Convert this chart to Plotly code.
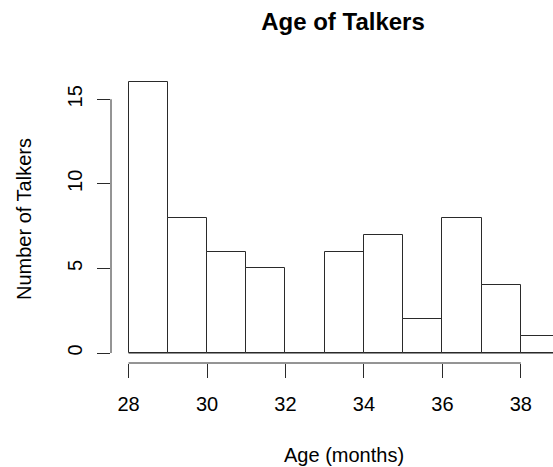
import plotly.graph_objects as go

# Data
breaks = [28, 29, 30, 31, 32, 33, 34, 35, 36, 37, 38, 39]
counts = [16, 8, 6, 5, 0, 6, 7, 2, 8, 4, 1]
x_ticks = [28, 30, 32, 34, 36, 38]
y_ticks = [0, 5, 10, 15]
title = "Age of Talkers"
x_title = "Age (months)"
y_title = "Number of Talkers"

centers = [(a + b) / 2 for a, b in zip(breaks[:-1], breaks[1:])]
widths = [b - a for a, b in zip(breaks[:-1], breaks[1:])]

FONT = "Liberation Sans, Arial, Helvetica, sans-serif"
LINE = "#2a2a2a"
W, H = 553, 467
L, R, T, B = 111, 0, 60, 104
PW, PH = W - L - R, H - T - B

fig = go.Figure()
fig.add_trace(go.Bar(
    x=centers, y=counts, width=widths,
    marker=dict(color="white", line=dict(color=LINE, width=1)),
    hoverinfo="skip", showlegend=False,
))

shapes = [
    # baseline of the histogram (covers empty bins)
    dict(type="line", xref="x", yref="y", x0=breaks[0], x1=breaks[-1], y0=0, y1=0,
         line=dict(color=LINE, width=1), layer="above"),
    # x axis line spanning the ticks
    dict(type="line", xref="x", yref="paper", x0=x_ticks[0], x1=x_ticks[-1], y0=0, y1=0,
         line=dict(color=LINE, width=1)),
    # y axis line spanning the ticks
    dict(type="line", xref="paper", yref="y", x0=0, x1=0, y0=y_ticks[0], y1=y_ticks[-1],
         line=dict(color=LINE, width=1)),
]

fig.update_layout(
    width=W, height=H,
    margin=dict(l=L, r=R, t=T, b=B, pad=0),
    plot_bgcolor="white", paper_bgcolor="white",
    font=dict(family=FONT, size=20, color="black"),
    bargap=0,
    shapes=shapes,
    title=dict(text=title, x=343 / W, xanchor="center", xref="container",
               y=1 - 22 / H, yanchor="middle",
               font=dict(family=FONT, size=24, color="black", weight="bold")),
    annotations=[
        dict(text=x_title, xref="paper", yref="paper", x=(344 - L) / PW, y=-(455 - 363) / PH,
             xanchor="center", yanchor="middle", showarrow=False,
             font=dict(family=FONT, size=20, color="black")),
        dict(text=y_title, xref="paper", yref="paper", x=-(L - 24) / PW, y=(363 - 219) / PH,
             xanchor="center", yanchor="middle", showarrow=False, textangle=-90,
             font=dict(family=FONT, size=20, color="black")),
    ],
)

fig.update_xaxes(
    range=[27.552, 38.82], showgrid=False, zeroline=False, showline=False,
    tickmode="array", tickvals=x_ticks, ticktext=[str(v) for v in x_ticks],
    ticks="outside", ticklen=14, tickwidth=1, tickcolor=LINE,
    ticklabelstandoff=9, tickfont=dict(family=FONT, size=20, color="black"),
)
fig.update_yaxes(
    range=[-0.59, 17.32], showgrid=False, zeroline=False, showline=False,
    tickmode="array", tickvals=y_ticks, ticktext=[str(v) for v in y_ticks],
    ticks="outside", ticklen=13, tickwidth=1, tickcolor=LINE, tickangle=-90,
    ticklabelstandoff=7, tickfont=dict(family=FONT, size=20, color="black"),
)

fig.write_html("out.html", config={"displayModeBar": False},
               post_script="document.body.style.margin='0';document.body.style.overflow='hidden';")
